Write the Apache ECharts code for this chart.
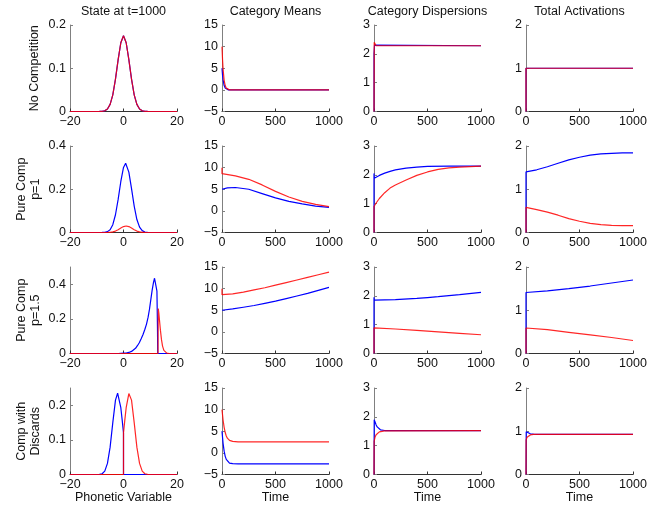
<!DOCTYPE html>
<html><head><meta charset="utf-8">
<script src="https://cdn.jsdelivr.net/npm/echarts@6/dist/echarts.min.js"></script>
<style>html,body{margin:0;padding:0;background:#fff}#c{width:657px;height:507px}</style>
</head><body><div id="c"></div>
<script>
// ---------- tick labels ----------
const xTicksState = [-20, 0, 20];
const xTicksTime = [0, 500, 1000];
const yTicksState = [[0, 0.1, 0.2], [0, 0.2, 0.4], [0, 0.2, 0.4], [0, 0.1, 0.2]];
const yMaxState = [0.2, 0.4, 0.5, 0.25];
const yTicksMeans = [-5, 0, 5, 10, 15];
const yTicksDisp = [0, 1, 2, 3];
const yTicksAct = [0, 1, 2];

// ---------- titles / row labels ----------
const colTitles = ['State at t=1000', 'Category Means', 'Category Dispersions', 'Total Activations'];
const rowLabels = [['No Competition'], ['Pure Comp', 'p=1'], ['Pure Comp', 'p=1.5'], ['Comp with', 'Discards']];
const xNames = ['Phonetic Variable', 'Time', 'Time', 'Time'];

// ---------- Column 1: State at t=1000 (phonetic variable, activation) ----------
const stateNoCompBlue = [[-20,0],[-10,0],[-9,0.0001],[-8,0.0004],[-7,0.0017],[-6,0.0058],[-5,0.0165],[-4,0.0385],[-3,0.075],[-2,0.120],[-1,0.159],[0,0.175],[1,0.159],[2,0.120],[3,0.075],[4,0.0385],[5,0.0165],[6,0.0058],[7,0.0017],[8,0.0004],[9,0.0001],[10,0],[20,0]];
const stateNoCompRed = [[-20,0],[-10,0],[-9,0.0001],[-8,0.0004],[-7,0.0017],[-6,0.0058],[-5,0.0165],[-4,0.0385],[-3,0.075],[-2,0.120],[-1,0.159],[0,0.175],[1,0.159],[2,0.120],[3,0.075],[4,0.0385],[5,0.0165],[6,0.0058],[7,0.0017],[8,0.0004],[9,0.0001],[10,0],[20,0]];
const stateP1Blue = [[-20,0],[-9,0],[-8,0.0002],[-7,0.001],[-6,0.004],[-5,0.013],[-4,0.036],[-3,0.082],[-2,0.153],[-1,0.236],[0,0.301],[0.8,0.32],[1,0.319],[2,0.279],[3,0.203],[4,0.122],[5,0.060],[6,0.025],[7,0.0085],[8,0.0024],[9,0.0005],[10,0],[20,0]];
const stateP1Red = [[-20,0],[-7,0],[-6,0.0003],[-5,0.001],[-4,0.0028],[-3,0.0066],[-2,0.0128],[-1,0.0206],[0,0.0273],[1,0.030],[2,0.0273],[3,0.0206],[4,0.0128],[5,0.0066],[6,0.0028],[7,0.001],[8,0.0003],[9,0],[20,0]];
const stateP15Blue = [[-20,0],[-2,0],[0,0.002],[1,0.003],[2,0.006],[3,0.012],[3.7,0.02],[4.5,0.03],[5.2,0.045],[5.9,0.062],[6.6,0.085],[7.3,0.11],[8,0.14],[8.6,0.17],[9.2,0.21],[9.7,0.255],[10.2,0.31],[10.7,0.365],[11.2,0.41],[11.6,0.435],[11.9,0.44],[12.2,0.425],[12.5,0.36],[12.7,0.15],[12.8,0],[20,0]];
const stateP15Red = [[-20,0],[12.9,0],[13.0,0.26],[13.2,0.235],[13.5,0.185],[13.8,0.135],[14.2,0.08],[14.6,0.043],[15.1,0.018],[15.6,0.007],[16.2,0.002],[17,0],[20,0]];
const stateDiscBlue = [[-20,0],[-10,0],[-9,0.0004],[-8,0.0022],[-7,0.0097],[-6,0.032],[-5,0.079],[-4,0.150],[-3,0.215],[-2.2,0.235],[-2,0.234],[-1,0.193],[-0.5,0.158],[0,0.120],[0,0],[20,0]];
const stateDiscRed = [[-20,0],[0,0],[0,0.120],[0.5,0.158],[1,0.193],[2,0.234],[2.2,0.235],[3,0.215],[4,0.150],[5,0.079],[6,0.032],[7,0.0097],[8,0.0022],[9,0.0004],[10,0],[20,0]];

// ---------- Column 2: Category Means (time, mean) ----------
const meansNoCompBlue = [[0,5],[5,3.4],[10,2.3],[20,1.0],[30,0.45],[40,0.2],[60,0],[1000,0]];
const meansNoCompRed = [[0,10],[5,7],[10,4.8],[20,2.2],[30,1.0],[40,0.4],[50,0.15],[70,0],[1000,0]];
const meansP1Blue = [[0,5.0],[50,5.3],[125,5.4],[250,5.0],[375,4.0],[500,3.0],[625,2.2],[750,1.6],[875,1.1],[1000,0.8]];
const meansP1Red = [[0,10],[0,8.6],[125,8.1],[250,7.3],[375,6.0],[500,4.5],[625,3.2],[750,2.2],[875,1.5],[1000,1.0]];
const meansP15Blue = [[0,5.0],[100,5.3],[200,5.7],[300,6.1],[400,6.6],[500,7.1],[600,7.7],[700,8.3],[800,8.9],[900,9.6],[1000,10.3]];
const meansP15Red = [[0,10],[0,8.6],[100,8.8],[200,9.2],[300,9.7],[400,10.2],[500,10.8],[600,11.4],[700,12.0],[800,12.6],[900,13.2],[1000,13.8]];
const meansDiscBlue = [[0,5],[10,2.2],[20,0.4],[30,-0.8],[40,-1.5],[50,-1.95],[70,-2.35],[100,-2.5],[150,-2.55],[1000,-2.55]];
const meansDiscRed = [[0,10],[10,7.6],[20,5.9],[30,4.7],[40,3.9],[50,3.4],[70,2.9],[100,2.65],[150,2.55],[1000,2.55]];

// ---------- Column 3: Category Dispersions ----------
const dispNoCompBlue = [[0,0],[0,2.0],[5,2.3],[1000,2.28]];
const dispNoCompRed = [[0,0],[2,2.4],[10,2.35],[20,2.28],[1000,2.28]];
const dispP1Blue = [[0,0],[0,2.05],[2,1.88],[50,1.98],[100,2.06],[150,2.12],[200,2.17],[300,2.23],[400,2.27],[500,2.29],[700,2.30],[1000,2.30]];
const dispP1Red = [[0,0],[0,0.9],[25,1.05],[50,1.18],[100,1.38],[150,1.54],[200,1.65],[300,1.82],[400,1.98],[500,2.1],[600,2.19],[700,2.24],[800,2.27],[1000,2.3]];
const dispP15Blue = [[0,0],[0,1.95],[2,1.85],[200,1.87],[400,1.91],[500,1.94],[600,1.97],[800,2.04],[1000,2.12]];
const dispP15Red = [[0,0],[0,0.89],[200,0.85],[400,0.80],[600,0.75],[800,0.70],[1000,0.65]];
const dispDiscBlue = [[0,0],[2,1.9],[10,1.82],[20,1.72],[30,1.65],[40,1.6],[60,1.55],[100,1.525],[1000,1.52]];
const dispDiscRed = [[0,0],[1,1.15],[10,1.3],[20,1.38],[30,1.43],[50,1.48],[100,1.515],[1000,1.52]];

// ---------- Column 4: Total Activations ----------
const actNoCompBlue = [[0,0],[0,1],[1000,1]];
const actNoCompRed = [[0,0],[0,1],[1000,1]];
const actP1Blue = [[0,0],[0,1.40],[100,1.45],[200,1.52],[300,1.60],[400,1.68],[500,1.74],[600,1.79],[700,1.82],[800,1.83],[900,1.84],[1000,1.84]];
const actP1Red = [[0,0],[0,0.58],[100,0.53],[200,0.47],[300,0.40],[400,0.32],[500,0.26],[600,0.21],[700,0.18],[800,0.165],[900,0.16],[1000,0.16]];
const actP15Blue = [[0,0],[0,1.41],[200,1.45],[400,1.50],[500,1.53],[600,1.56],[800,1.63],[1000,1.70]];
const actP15Red = [[0,0],[0,0.59],[200,0.55],[400,0.49],[500,0.46],[600,0.43],[800,0.37],[1000,0.30]];
const actDiscBlue = [[0,0],[2,0.99],[10,0.97],[20,0.955],[40,0.94],[70,0.932],[100,0.93],[1000,0.93]];
const actDiscRed = [[0,0],[1,0.8],[10,0.86],[20,0.89],[40,0.915],[70,0.927],[100,0.93],[1000,0.93]];

const panelData = [
  [[stateNoCompBlue, stateNoCompRed], [meansNoCompBlue, meansNoCompRed], [dispNoCompBlue, dispNoCompRed], [actNoCompBlue, actNoCompRed]],
  [[stateP1Blue, stateP1Red], [meansP1Blue, meansP1Red], [dispP1Blue, dispP1Red], [actP1Blue, actP1Red]],
  [[stateP15Blue, stateP15Red], [meansP15Blue, meansP15Red], [dispP15Blue, dispP15Red], [actP15Blue, actP15Red]],
  [[stateDiscBlue, stateDiscRed], [meansDiscBlue, meansDiscRed], [dispDiscBlue, dispDiscRed], [actDiscBlue, actDiscRed]]
];

// ---------- layout ----------
const colLeft = [70, 222, 374, 526];
const rowTop = [25, 146, 267, 388];
const W = 107, H = 86.5;
const FONT = "'Liberation Sans', Arial, Helvetica, sans-serif";
const FS = 12.5;
const fmt = v => String(v).replace('-', '\u2212');

const grid = [], xAxis = [], yAxis = [], series = [], graphic = [];
for (let r = 0; r < 4; r++) {
  for (let c = 0; c < 4; c++) {
    const i = r * 4 + c;
    grid.push({left: colLeft[c], top: rowTop[r], width: W, height: H, containLabel: false, outerBoundsMode: 'none'});
    const xt = c === 0 ? xTicksState : xTicksTime;
    let yt, ymin, ymax;
    if (c === 0) { yt = yTicksState[r]; ymin = 0; ymax = yMaxState[r]; }
    else if (c === 1) { yt = yTicksMeans; ymin = -5; ymax = 15; }
    else if (c === 2) { yt = yTicksDisp; ymin = 0; ymax = 3; }
    else { yt = yTicksAct; ymin = 0; ymax = 2; }
    xAxis.push({
      type: 'value', gridIndex: i, min: xt[0], max: xt[xt.length - 1], position: 'bottom',
      axisLine: {onZero: false, lineStyle: {color: '#333', width: 1}},
      axisTick: {inside: true, length: 3, customValues: xt, lineStyle: {color: '#333'}},
      axisLabel: {customValues: xt, formatter: fmt, margin: 4, color: '#111', fontSize: FS, fontFamily: FONT},
      splitLine: {show: false}
    });
    yAxis.push({
      type: 'value', gridIndex: i, min: ymin, max: ymax, position: 'left',
      axisLine: {show: true, onZero: false, lineStyle: {color: '#808080', width: 1}},
      axisTick: {show: true, inside: true, length: 3, customValues: yt, lineStyle: {color: '#808080'}},
      axisLabel: {customValues: yt, formatter: fmt, margin: 4, color: '#111', fontSize: FS, fontFamily: FONT},
      splitLine: {show: false}
    });
    const [b, rd] = panelData[r][c];
    series.push({type: 'line', xAxisIndex: i, yAxisIndex: i, data: b, showSymbol: false, symbol: 'none',
      lineStyle: {color: '#0000ff', width: 1.2}, itemStyle: {color: '#0000ff'}, z: 2});
    series.push({type: 'line', xAxisIndex: i, yAxisIndex: i, data: rd, showSymbol: false, symbol: 'none',
      lineStyle: {color: '#ff0000', width: 1.2, opacity: 0.85}, itemStyle: {color: '#ff0000'}, z: 3});
  }
}
for (let c = 0; c < 4; c++) {
  graphic.push({type: 'text', x: colLeft[c] + W / 2, y: 12,
    style: {text: colTitles[c], fill: '#111', font: FS + 'px ' + FONT, align: 'center', verticalAlign: 'middle'}});
  graphic.push({type: 'text', x: colLeft[c] + W / 2, y: 498,
    style: {text: xNames[c], fill: '#111', font: FS + 'px ' + FONT, align: 'center', verticalAlign: 'middle'}});
}
for (let r = 0; r < 4; r++) {
  const lines = rowLabels[r];
  graphic.push({type: 'text', x: lines.length === 1 ? 35 : 29, y: rowTop[r] + H / 2, rotation: Math.PI / 2,
    style: {text: lines.join('\n'), fill: '#111', font: FS + 'px ' + FONT, align: 'center', verticalAlign: 'middle', lineHeight: 14}});
}

const chart = echarts.init(document.getElementById('c'), null, {renderer: 'canvas'});
chart.setOption({animation: false, backgroundColor: '#fff', grid, xAxis, yAxis, series, graphic});
</script></body></html>
